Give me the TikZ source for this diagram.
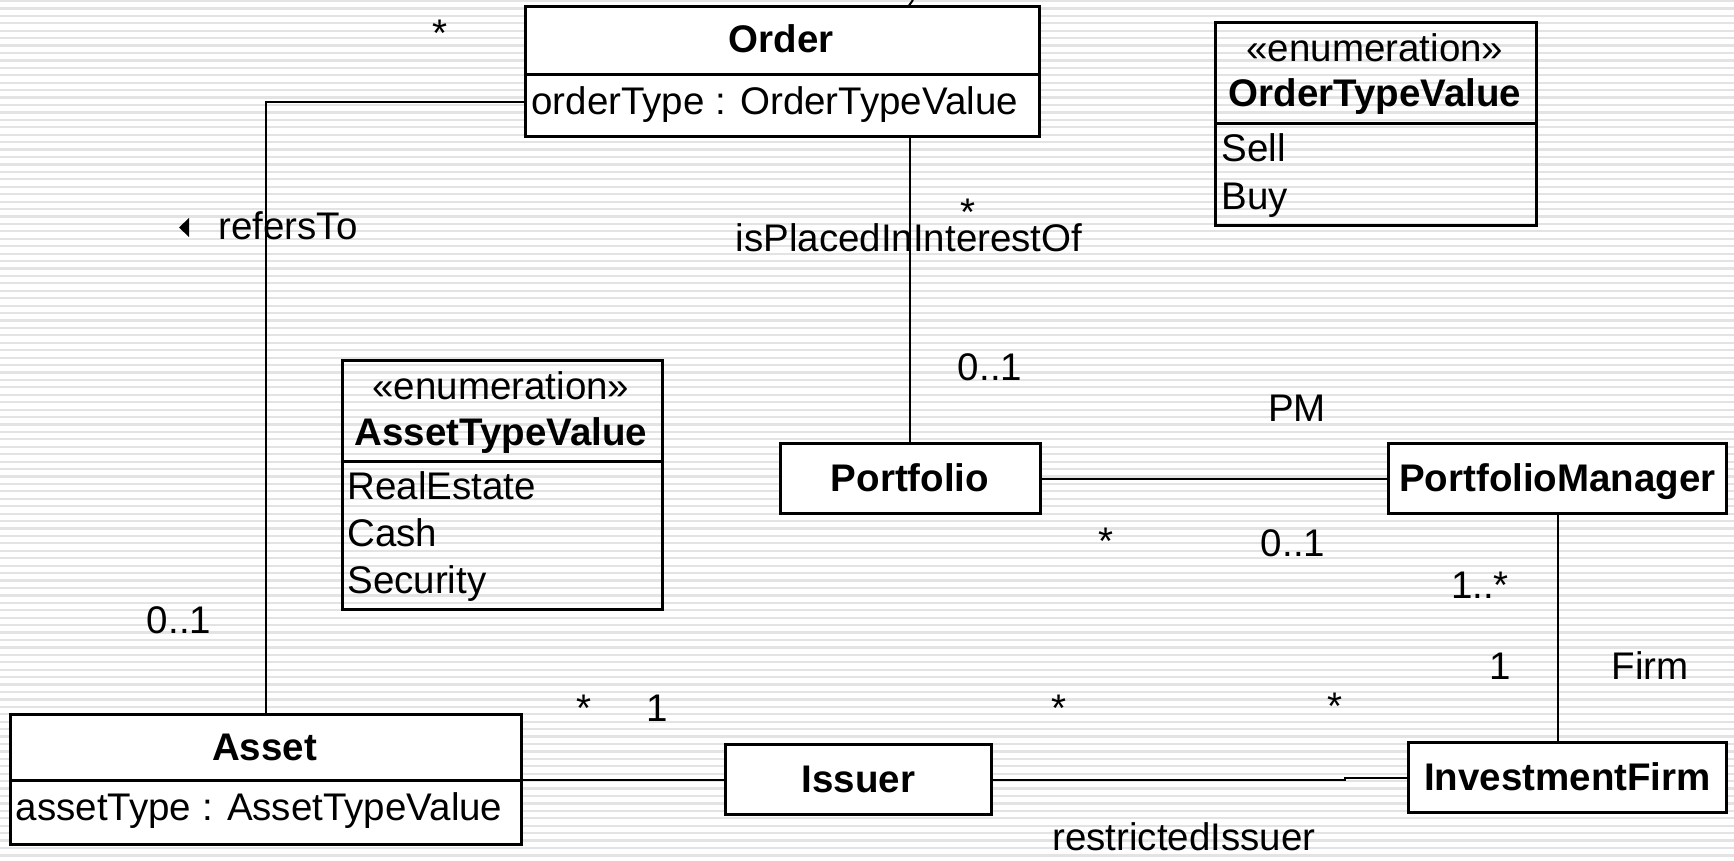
\documentclass[tikz,border=0pt]{standalone}
\usepackage{fontspec}
\setmainfont{Liberation Sans}
\newcommand\umlfs{\fontsize{19.25}{22}\selectfont}
\begin{document}
\begin{tikzpicture}[x=0.5pt,y=-0.5pt,
  stripe/.style={draw=black!11, line width=1.1pt},
  boxsize/.style 2 args={minimum width=#1*0.5pt, minimum height=#2*0.5pt},
  cls/.style={draw, line width=1.5pt, fill=white, inner sep=0pt, anchor=north west},
  enum/.style={draw, line width=1.5pt, inner sep=0pt, anchor=north west},
  divider/.style={line width=1.5pt},
  assoc/.style={line width=1pt},
  lbl/.style={inner sep=0pt, text height=0.716em, text depth=0pt, font=\umlfs, yshift=-2.75pt},
  bname/.style={lbl, font=\umlfs\bfseries},
  star/.style={lbl, yshift=-2.9pt}]

% striped paper
\useasboundingbox (0,0) rectangle (1734,861);
\fill[white] (0,0) rectangle (1734,861);
\foreach \i in {0,...,115}
  \draw[stripe] (0,{1+\i*7.43}) -- (1734,{1+\i*7.43});

% classes
\node[cls, boxsize={514}{130}] (order) at (524,5.5) {};
\draw[divider] (order.west |- 0,75) -- (order.east |- 0,75);
\node[bname] (ordername) at (781,40) {Order};
\node[lbl, anchor=west] (ordattr) at (531,102) {orderType : OrderTypeValue};

\node[enum, boxsize={321}{203.5}] (otv) at (1214,21) {};
\draw[divider] (otv.west |- 0,124) -- (otv.east |- 0,124);
\node[lbl] (otvst) at (1375,49) {«enumeration»};
\node[bname] (otvname) at (1375,94) {OrderTypeValue};
\node[lbl, anchor=west] (sell) at (1221,149) {Sell};
\node[lbl, anchor=west] (buy) at (1221,197) {Buy};

\node[enum, boxsize={320.4}{249}] (atv) at (340.6,359) {};
\draw[divider] (atv.west |- 0,461) -- (atv.east |- 0,461);
\node[lbl] (atvst) at (501,387) {«enumeration»};
\node[bname] (atvname) at (501,432.5) {AssetTypeValue};
\node[lbl, anchor=west] (realestate) at (347,487) {RealEstate};
\node[lbl, anchor=west] (cash) at (347,534) {Cash};
\node[lbl, anchor=west] (security) at (347,581) {Security};

\node[cls, boxsize={260}{70}] (portfolio) at (778.5,442) {};
\node[bname] (portfolioname) at (portfolio.center) {Portfolio};

\node[cls, boxsize={338}{70}] (pm) at (1387,442) {};
\node[bname] (pmname) at (pm.center) {PortfolioManager};

\node[cls, boxsize={511}{130}] (asset) at (9,713) {};
\draw[divider] (asset.west |- 0,780) -- (asset.east |- 0,780);
\node[bname] (assetname) at (264.5,748) {Asset};
\node[lbl, anchor=west] (assetattr) at (15.5,808) {assetType : AssetTypeValue};

\node[cls, boxsize={266}{70}] (issuer) at (724,743) {};
\node[bname] (issuername) at (issuer.center) {Issuer};

\node[cls, boxsize={318}{70}] (firm) at (1407,741) {};
\node[bname] (firmname) at (firm.center) {InvestmentFirm};

% associations
\draw[assoc] (order.west |- 0,102) -| (asset.north);
\draw[assoc] (portfolio.north |- order.south) -- (portfolio.north);
\draw[assoc] (portfolio) -- (pm);
\draw[assoc] (pm.south) -- (pm.south |- firm.north);
\draw[assoc] (asset.east |- issuer.west) -- (issuer.west);
\draw[assoc] (issuer.east) -- ++(352,0) |- (firm.west);
\draw[assoc] (order.north -| 909,0) -- (913,0);

% association names and multiplicities
\node[star] (m1) at (440,28) {*};
\fill (179,227.5) -- (189,218) -- (189,237) -- cycle;
\node[lbl, anchor=west] (refersto) at (218,227) {refersTo};
\node[lbl] (placed) at (909,239) {isPlacedInInterestOf};
\node[star] (m2) at (968,207) {*};
\node[lbl] (m3) at (990,368) {0..1};
\node[lbl] (pmlabel) at (1297,409) {PM};
\node[star] (m4) at (1106,536) {*};
\node[lbl] (m5) at (1293,544) {0..1};
\node[lbl] (m6) at (1480,586) {1..*};
\node[lbl] (m7) at (1500,667) {1};
\node[lbl] (firmlabel) at (1650,667) {Firm};
\node[lbl] (m8) at (179,621) {0..1};
\node[star] (m9) at (584,703) {*};
\node[lbl] (m10) at (657,709) {1};
\node[star] (m11) at (1059,703) {*};
\node[star] (m12) at (1335,701) {*};
\node[lbl] (restricted) at (1184,838) {restrictedIssuer};
\end{tikzpicture}
\end{document}
